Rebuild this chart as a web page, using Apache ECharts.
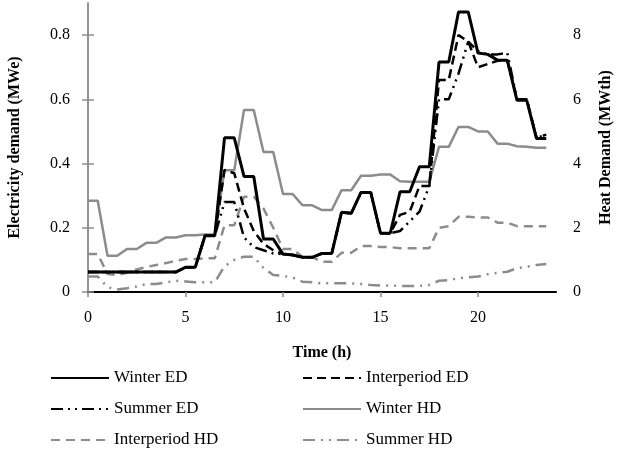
<!DOCTYPE html>
<html>
<head>
<meta charset="utf-8">
<script src="https://cdn.jsdelivr.net/npm/echarts@6/dist/echarts.min.js"></script>
<style>
  html, body { margin: 0; padding: 0; background: #fff; }
  #chart { width: 618px; height: 452px; }
</style>
</head>
<body>
<div id="chart"></div>
<script>
// half-hour time grid (h)
const hours = [0, 0.5, 1, 1.5, 2, 2.5, 3, 3.5, 4, 4.5, 5, 5.5, 6, 6.5, 7, 7.5, 8, 8.5, 9, 9.5,
    10, 10.5, 11, 11.5, 12, 12.5, 13, 13.5, 14, 14.5, 15, 15.5, 16, 16.5, 17, 17.5, 18, 18.5, 19, 19.5,
    20, 20.5, 21, 21.5, 22, 22.5, 23, 23.5];

const xTicks = [0, 5, 10, 15, 20];
const edTicks = [0, 0.2, 0.4, 0.6, 0.8];
const hdTicks = [0, 2, 4, 6, 8];

// electricity demand (MWe)
const winterED = [0.062, 0.062, 0.062, 0.062, 0.062, 0.062, 0.062, 0.062, 0.062, 0.062,
    0.077, 0.077, 0.175, 0.175, 0.48, 0.48, 0.36, 0.36, 0.165, 0.165,
    0.118, 0.115, 0.108, 0.108, 0.12, 0.12, 0.248, 0.245, 0.31, 0.31,
    0.183, 0.183, 0.312, 0.312, 0.39, 0.39, 0.716, 0.716, 0.872, 0.872,
    0.744, 0.74, 0.722, 0.722, 0.597, 0.597, 0.478, 0.478];
const interED = [0.062, 0.062, 0.062, 0.062, 0.062, 0.062, 0.062, 0.062, 0.062, 0.062,
    0.077, 0.077, 0.175, 0.175, 0.38, 0.37, 0.26, 0.19, 0.15, 0.13,
    0.118, 0.115, 0.108, 0.108, 0.12, 0.12, 0.248, 0.245, 0.31, 0.31,
    0.183, 0.183, 0.24, 0.25, 0.33, 0.33, 0.66, 0.66, 0.8, 0.78,
    0.7, 0.71, 0.72, 0.722, 0.6, 0.6, 0.48, 0.49];
const summerED = [0.062, 0.062, 0.062, 0.062, 0.062, 0.062, 0.062, 0.062, 0.062, 0.062,
    0.077, 0.077, 0.175, 0.175, 0.28, 0.28, 0.17, 0.14, 0.13, 0.12,
    0.118, 0.115, 0.108, 0.108, 0.12, 0.12, 0.248, 0.245, 0.31, 0.31,
    0.183, 0.183, 0.19, 0.22, 0.25, 0.33, 0.6, 0.6, 0.68, 0.78,
    0.75, 0.74, 0.74, 0.745, 0.6, 0.6, 0.48, 0.49];

// heat demand (MWth)
const winterHD = [2.84, 2.84, 1.13, 1.13, 1.34, 1.34, 1.53, 1.53, 1.7, 1.7,
    1.77, 1.77, 1.79, 1.79, 3.79, 3.79, 5.67, 5.67, 4.36, 4.36,
    3.05, 3.05, 2.7, 2.7, 2.55, 2.55, 3.17, 3.17, 3.62, 3.62,
    3.66, 3.66, 3.45, 3.43, 3.43, 3.43, 4.52, 4.52, 5.14, 5.14,
    5.0, 5.0, 4.62, 4.62, 4.54, 4.52, 4.49, 4.49];
const interHD = [1.18, 1.18, 0.56, 0.53, 0.6, 0.7, 0.78, 0.84, 0.9, 0.97,
    1.03, 1.03, 1.05, 1.05, 2.08, 2.08, 2.97, 2.97, 2.6, 2.0,
    1.34, 1.34, 1.09, 1.09, 0.94, 0.94, 1.22, 1.22, 1.43, 1.43,
    1.4, 1.4, 1.36, 1.36, 1.36, 1.36, 2.0, 2.05, 2.34, 2.34,
    2.32, 2.32, 2.16, 2.16, 2.05, 2.05, 2.05, 2.05];
const summerHD = [0.48, 0.48, 0.15, 0.08, 0.12, 0.17, 0.25, 0.25, 0.3, 0.35,
    0.33, 0.3, 0.3, 0.3, 0.8, 1.0, 1.1, 1.1, 0.75, 0.53,
    0.5, 0.45, 0.32, 0.3, 0.27, 0.27, 0.27, 0.27, 0.25, 0.22,
    0.2, 0.2, 0.19, 0.19, 0.19, 0.22, 0.35, 0.37, 0.43, 0.46,
    0.48, 0.55, 0.6, 0.63, 0.74, 0.79, 0.84, 0.87];

const FONT = '"Liberation Serif", "Times New Roman", serif';
const GREY = '#8c8c8c';

function pairs(values) {
    return hours.map((h, i) => [h, values[i]]);
}

function lineSeries(name, values, color, type, width, yAxisIndex) {
    return {
        name,
        type: 'line',
        yAxisIndex,
        data: pairs(values),
        symbol: 'none',
        lineStyle: { color, width, type },
        itemStyle: { color },
        z: color === '#000' ? 3 : 2,
    };
}

const chart = echarts.init(document.getElementById('chart'), null, { renderer: 'canvas' });

const legendCommon = {
    orient: 'vertical',
    top: 363,
    height: 88,
    itemWidth: 58,
    itemHeight: 14,
    itemGap: 11,
    itemStyle: { opacity: 0 },
    textStyle: { fontFamily: FONT, fontSize: 17, lineHeight: 20, color: '#000' },
};

const tickStyle = { color: GREY, width: 1.5 };

chart.setOption({
    animation: false,
    textStyle: { fontFamily: FONT },
    grid: { left: 88, right: 62, top: 3, bottom: 160, containLabel: false, outerBoundsMode: 'none' },
    legend: [
        Object.assign({ left: 45, data: ['Winter ED', 'Summer ED', 'Interperiod HD'] }, legendCommon),
        Object.assign({ left: 297, data: ['Interperiod ED', 'Winter HD', 'Summer HD'] }, legendCommon),
    ],
    xAxis: [
        {
            type: 'value',
            min: 0,
            max: 24,
            interval: 5,
            name: 'Time (h)',
            nameLocation: 'middle',
            nameGap: 53,
            nameTextStyle: { fontFamily: FONT, fontSize: 16, fontWeight: 'bold', color: '#000' },
            axisLine: { lineStyle: tickStyle },
            axisTick: { show: true, length: 5, lineStyle: tickStyle, customValues: xTicks },
            axisLabel: {
                fontFamily: FONT, fontSize: 16, color: '#000', margin: 18,
                customValues: xTicks,
                formatter: v => (v % 5 === 0 ? String(v) : ''),
            },
            splitLine: { show: false },
        },
        {
            type: 'value',
            position: 'top',
            min: 0,
            max: 24,
            axisLine: { show: true, lineStyle: { color: '#000', width: 2 } },
            axisTick: { show: false },
            axisLabel: { show: false },
            splitLine: { show: false },
        },
    ],
    yAxis: [
        {
            type: 'value',
            min: 0,
            max: 0.9,
            interval: 0.2,
            name: 'Electricity demand (MWe)',
            nameLocation: 'middle',
            nameGap: 65,
            nameRotate: 90,
            nameTextStyle: { fontFamily: FONT, fontSize: 16, fontWeight: 'bold', color: '#000' },
            axisLine: { show: true, lineStyle: tickStyle },
            axisTick: { show: true, length: 6, lineStyle: tickStyle, customValues: edTicks },
            axisLabel: {
                fontFamily: FONT, fontSize: 16, color: '#000', margin: 18,
                customValues: edTicks,
                formatter: v => (v > 0.85 ? '' : String(Math.round(v * 10) / 10)),
            },
            splitLine: { show: false },
        },
        {
            type: 'value',
            min: 0,
            max: 9,
            interval: 2,
            position: 'right',
            name: 'Heat Demand (MWth)',
            nameLocation: 'middle',
            nameGap: 42,
            nameRotate: 90,
            nameTextStyle: { fontFamily: FONT, fontSize: 16, fontWeight: 'bold', color: '#000' },
            axisLine: { show: true, lineStyle: tickStyle },
            axisTick: { show: true, length: 6, lineStyle: tickStyle, customValues: hdTicks },
            axisLabel: {
                fontFamily: FONT, fontSize: 16, color: '#000', margin: 17,
                customValues: hdTicks,
                formatter: v => (v > 8.5 ? '' : String(v)),
            },
            splitLine: { show: false },
        },
    ],
    series: [
        lineSeries('Winter ED', winterED, '#000', 'solid', 3, 0),
        lineSeries('Interperiod ED', interED, '#000', [9, 5], 2.5, 0),
        lineSeries('Summer ED', summerED, '#000', [12, 5, 2, 5, 2, 5], 2.5, 0),
        lineSeries('Winter HD', winterHD, GREY, 'solid', 2.5, 1),
        lineSeries('Interperiod HD', interHD, GREY, [9, 6], 2.5, 1),
        lineSeries('Summer HD', summerHD, GREY, [12, 6, 2, 6, 2, 6], 2.5, 1),
    ],
});

window.addEventListener('resize', () => chart.resize());
</script>
</body>
</html>
